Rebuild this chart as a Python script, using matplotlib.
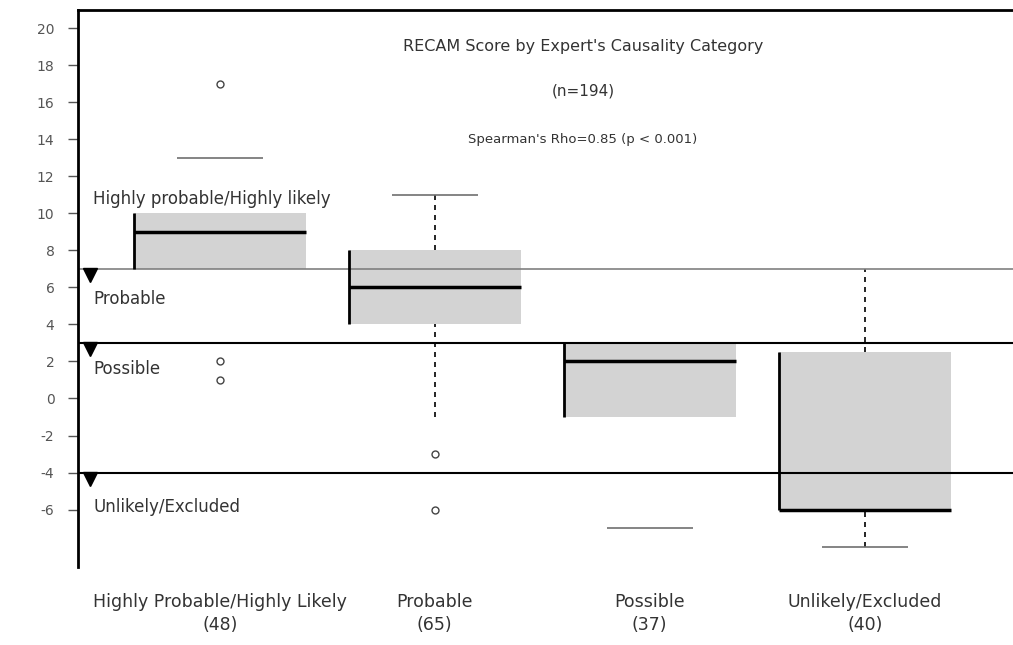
import numpy as np
import matplotlib
matplotlib.use('Agg')
import matplotlib.pyplot as plt

plt.rcParams['font.family'] = ['DejaVu Sans']
plt.rcParams['axes.unicode_minus'] = False

# categories and counts
categories = ['Highly Probable/Highly Likely', 'Probable', 'Possible', 'Unlikely/Excluded']
counts = [48, 65, 37, 40]

# box stats
q1 = [7, 4, -1, -6]
median = [9, 6, 2, -6]
q3 = [10, 8, 3, 2.5]
whisk_hi = [np.nan, 11, np.nan, 7]
whisk_lo = [np.nan, -1, np.nan, -8]
cap_hi = [13, 11, np.nan, np.nan]
cap_lo = [np.nan, np.nan, -7, -8]
outlier_x = [1, 1, 1, 2, 2]
outlier_y = [17, 2, 1, -3, -6]

# score cut-offs and region labels
cutoffs = [7, 3, -4]
cutoff_colors = ['#808080', 'black', 'black']
region_labels = ['Highly probable/Highly likely', 'Probable', 'Possible', 'Unlikely/Excluded']
region_label_y = [10.8, 5.35, 1.6, -5.85]

fig = plt.figure(figsize=(10.13, 6.45), dpi=100)
ax = fig.add_axes([0.077, 0.121, 0.923, 0.864])

pos = np.arange(1, len(categories) + 1)
w = 0.8

# boxes
ax.bar(pos, np.array(q3) - np.array(q1), bottom=q1, width=w, color='#d3d3d3', zorder=1)
ax.vlines(pos - w / 2, q1, q3, color='black', lw=2, zorder=3)
ax.hlines(median, pos - w / 2, pos + w / 2, color='black', lw=2.5, zorder=3)

# whiskers and caps
for p, lo, hi, b, t in zip(pos, whisk_lo, whisk_hi, q1, q3):
    if not np.isnan(hi):
        ax.vlines(p, t, hi, color='black', lw=1.2, linestyles=(0, (3, 3)), zorder=2)
    if not np.isnan(lo):
        ax.vlines(p, lo, b, color='black', lw=1.2, linestyles=(0, (3, 3)), zorder=2)
ax.hlines(cap_hi, pos - 0.2, pos + 0.2, color='#707070', lw=1.2, zorder=2)
ax.hlines(cap_lo, pos - 0.2, pos + 0.2, color='#707070', lw=1.2, zorder=2)

# outliers
ax.plot(outlier_x, outlier_y, linestyle='none', marker='o', markersize=5,
        markerfacecolor='none', markeredgecolor='#444444', markeredgewidth=1, zorder=3)

# cut-off lines with triangles
for c, col in zip(cutoffs, cutoff_colors):
    ax.axhline(c, color=col, lw=1.5 if col == 'black' else 1.2, zorder=2)
ax.plot([0.395] * len(cutoffs), np.array(cutoffs) - 0.35, linestyle='none', marker='v',
        markersize=10, color='black', zorder=4, clip_on=False)

for lab, y in zip(region_labels, region_label_y):
    ax.text(0.41, y, lab, fontsize=12, color='#333333', va='center', ha='left')

# titles
ax.text(2.69, 19.0, "RECAM Score by Expert's Causality Category", fontsize=11.5,
        ha='center', va='center', color='#333333')
ax.text(2.69, 16.6, '(n=194)', fontsize=11, ha='center', va='center', color='#333333')
ax.text(2.69, 14.0, "Spearman's Rho=0.85 (p < 0.001)", fontsize=9.5,
        ha='center', va='center', color='#333333')

ax.set_xlim(0.34, 4.69)
ax.set_ylim(-9.1, 21)
ax.set_yticks(np.arange(-6, 21, 2))
ax.tick_params(axis='y', length=7, width=1, pad=10, color='#555555', labelcolor='#555555', labelsize=10)
ax.set_xticks(pos)
ax.set_xticklabels([f'{c}\n({n})' for c, n in zip(categories, counts)], fontsize=12.5,
                   color='#333333', linespacing=1.3)
ax.tick_params(axis='x', length=0, pad=19)

for s in ['right', 'bottom']:
    ax.spines[s].set_visible(False)
ax.spines['left'].set_linewidth(2)
ax.spines['top'].set_linewidth(2)

fig.savefig('out.png', dpi=100)
